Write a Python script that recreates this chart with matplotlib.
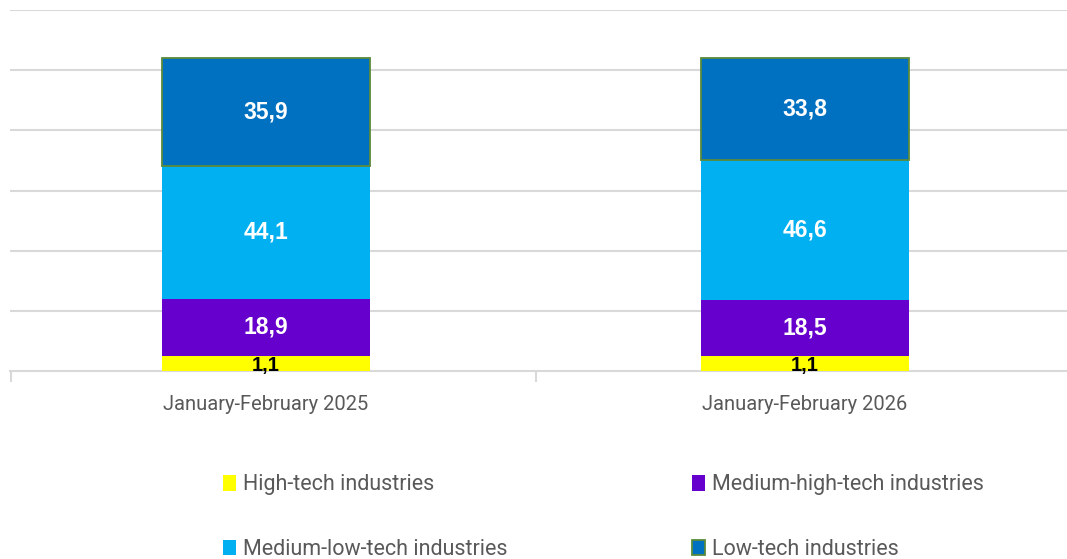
import numpy as np
import matplotlib
matplotlib.use("Agg")
import matplotlib.pyplot as plt
from matplotlib.ticker import FixedLocator

# ---- data ------------------------------------------------------------------
periods = ["January-February 2025", "January-February 2026"]
series = ["High-tech industries", "Medium-high-tech industries",
          "Medium-low-tech industries", "Low-tech industries"]
high_tech = [1.1, 1.1]
medium_high = [18.9, 18.5]
medium_low = [44.1, 46.6]
low_tech = [35.9, 33.8]
# the yellow segment is drawn taller than its value in the original chart
high_tech_drawn = [5.1, 5.1]

colors = ["#FFFF00", "#6600CC", "#00B0F0", "#0070C0"]
label_colors = ["black", "white", "white", "white"]
grey_text = "#595959"
grid_col = "#D9D9D9"

fig = plt.figure(figsize=(10.67, 5.59), dpi=100)
ax = fig.add_axes([10 / 1067, 1 - 371 / 559, 1 - 10 / 1067, 361 / 559])

x = np.arange(len(periods))
width = 0.386
heights = [high_tech_drawn, medium_high, medium_low, low_tech]
labels = [high_tech, medium_high, medium_low, low_tech]
bottom = np.zeros(len(periods))
handles = []
for i, (h, lab) in enumerate(zip(heights, labels)):
    h = np.asarray(h, dtype=float)
    edge = "#5B8A3A" if i == 3 else "none"
    bars = ax.bar(x, h, width, bottom=bottom, color=colors[i], edgecolor=edge,
                  linewidth=1.3 if i == 3 else 0, label=series[i], zorder=3)
    handles.append(bars)
    for xi, b, hh, v in zip(x, bottom, h, lab):
        ax.text(xi, b + hh / 2 - (0.7 if i == 0 else 0), f"{v:.1f}".replace(".", ","),
                ha="center", va="center", color=label_colors[i],
                fontsize=16.5 if i else 14.5, fontweight="bold",
                family="Liberation Sans", zorder=5)
    bottom += h

ax.set_ylim(0, 120)
ax.set_xlim((10 - 266) / 539, (1067 - 266) / 539)
ax.yaxis.set_major_locator(FixedLocator(np.arange(20, 121, 20)))
ax.grid(axis="y", color=grid_col, lw=1.5, zorder=0)
ax.tick_params(axis="y", left=False, labelleft=False)
for s in ["top", "right", "left"]:
    ax.spines[s].set_visible(False)
ax.spines["bottom"].set_color(grid_col)
ax.spines["bottom"].set_linewidth(1.5)
ax.set_xticks(x)
ax.set_xticklabels(periods, fontsize=14.5, color=grey_text, family="Roboto")
ax.tick_params(axis="x", length=0, pad=17)
ax.xaxis.set_minor_locator(FixedLocator([(10 - 266) / 539 + 0.002, 0.5]))
ax.tick_params(axis="x", which="minor", length=8, color=grid_col, width=1.5)

order = [0, 2, 1, 3]
leg = fig.legend([handles[k] for k in order], [series[k] for k in order],
                 loc="upper left", bbox_to_anchor=(204 / 1067, 1 - 455 / 559),
                 ncol=2, frameon=False, handlelength=0.6, handleheight=0.75,
                 handletextpad=0.3, columnspacing=8.6, labelspacing=2.03,
                 prop={"family": "Roboto", "size": 15.5})
for t in leg.get_texts():
    t.set_color(grey_text)

fig.savefig("out.png", dpi=100)
